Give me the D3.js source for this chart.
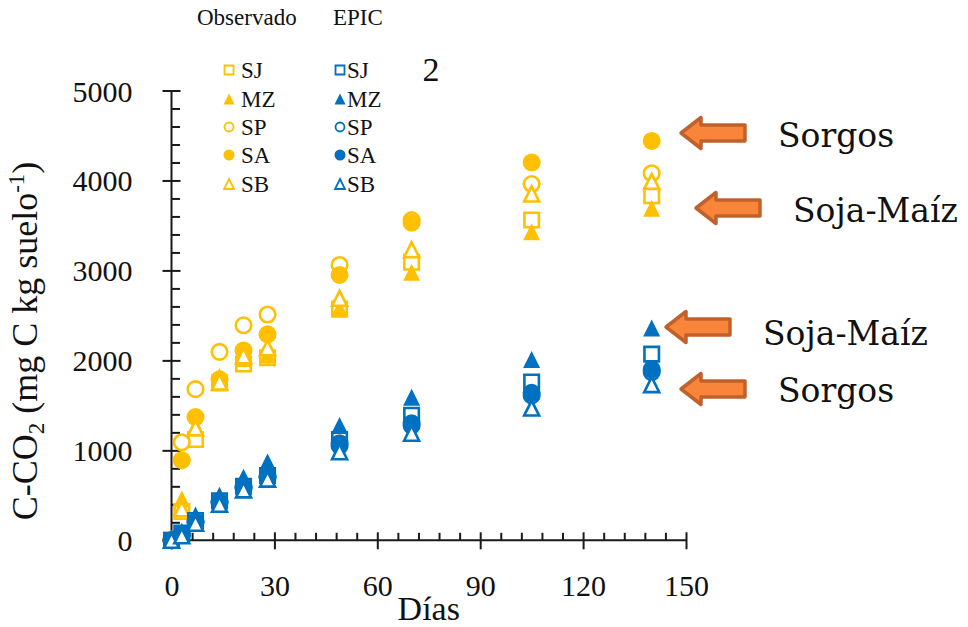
<!DOCTYPE html>
<html>
<head>
<meta charset="utf-8">
<script src="https://cdn.jsdelivr.net/npm/d3@7"></script>
<style>
  html, body { margin: 0; padding: 0; background: #fff; }
  svg { display: block; }
  text { font-family: "Liberation Serif", "Times New Roman", serif; fill: #111; }
  .note { font-family: "DejaVu Serif", serif; }
</style>
</head>
<body>
<svg id="chart" width="968" height="627"></svg>
<script>
// Incubation days
const days = [0, 3, 7, 14, 21, 28, 49, 70, 105, 140];

// Cumulative C-CO2 (mg C kg suelo-1), measured
const obsSJ = [0, 320, 1120, 1750, 1960, 2030, 2570, 3090, 3560, 3830];
const obsMZ = [0, 460, 1270, 1820, 2020, 2060, 2580, 2980, 3430, 3690];
const obsSP = [0, 1090, 1680, 2095, 2390, 2510, 3060, 3560, 3960, 4080];
const obsSA = [0, 890, 1370, 1790, 2110, 2290, 2950, 3530, 4200, 4440];
const obsSB = [0, 350, 1250, 1760, 2050, 2140, 2690, 3230, 3850, 3990];

// Cumulative C-CO2 simulated with EPIC
const epicSJ = [0, 80, 220, 440, 600, 720, 1120, 1390, 1760, 2070];
const epicMZ = [0, 100, 280, 500, 700, 870, 1275, 1590, 2010, 2360];
const epicSP = [0, 60, 200, 420, 580, 700, 1050, 1300, 1610, 1870];
const epicSA = [0, 70, 210, 430, 590, 710, 1080, 1275, 1640, 1900];
const epicSB = [0, 50, 190, 400, 560, 680, 985, 1190, 1470, 1730];

const seriesNames = ["SJ", "MZ", "SP", "SA", "SB"];
const xTicks = [0, 30, 60, 90, 120, 150];
const yTicks = [0, 1000, 2000, 3000, 4000, 5000];

// Annotations on the right-hand side
const noteLabels = ["Sorgos", "Soja-Maíz", "Soja-Maíz", "Sorgos"];

const YELLOW = "#FFC000", BLUE = "#0070C0";

const svg = d3.select("#chart");

const x = d3.scaleLinear().domain([0, 150]).range([171.5, 686]);
const y = d3.scaleLinear().domain([0, 5000]).range([540.3, 90.5]);

// ---- axes ----
const axisColor = "#1a1a1a";
const fmt = d3.format("d");

const yMinor = d3.range(200, 5000, 200).filter(v => v % 1000 !== 0);
const xMinor = d3.range(6, 150, 6).filter(v => v % 30 !== 0);

const gyMinor = svg.append("g").attr("transform", `translate(${x(0)},0)`)
  .call(d3.axisLeft(y).tickValues(yMinor).tickSize(-8.5).tickFormat(""));
const gy = svg.append("g").attr("transform", `translate(${x(0)},0)`)
  .call(d3.axisLeft(y).tickValues(yTicks).tickFormat(fmt).tickSize(9).tickPadding(30));
gy.selectAll(".tick line").attr("x1", 9);

const gxMinor = svg.append("g").attr("transform", `translate(0,${y(0)})`)
  .call(d3.axisBottom(x).tickValues(xMinor).tickSize(-7.5).tickFormat(""));
const gx = svg.append("g").attr("transform", `translate(0,${y(0)})`)
  .call(d3.axisBottom(x).tickValues(xTicks).tickFormat(fmt).tickSize(9).tickPadding(25));
gx.selectAll(".tick line").attr("y1", -8);

[gy, gyMinor, gx, gxMinor].forEach(g => {
  g.selectAll(".domain").attr("stroke", axisColor).attr("stroke-width", 2);
  g.selectAll(".tick line").attr("stroke", axisColor).attr("stroke-width", 2);
});
gyMinor.select(".domain").remove();
gxMinor.select(".domain").remove();
gy.select(".domain").attr("d", `M0,${y(0)}V${y(5000)}`);
gx.select(".domain").attr("d", `M${x(0)},0H${x(150)}`);

gy.selectAll(".tick text")
  .attr("font-family", "Liberation Serif").attr("font-size", 30).attr("fill", "#111")
  .attr("dy", "0.35em");
gx.selectAll(".tick text")
  .attr("font-family", "Liberation Serif").attr("font-size", 30).attr("fill", "#111")
  .attr("dy", "0.71em");

// axis titles
svg.append("text")
  .attr("x", (x(0) + x(150)) / 2).attr("y", 620)
  .attr("text-anchor", "middle").attr("font-size", 34)
  .text("Días");

const yTitle = svg.append("text")
  .attr("transform", "translate(37,341) rotate(-90)")
  .attr("text-anchor", "middle").attr("font-size", 36);
yTitle.append("tspan").text("C-CO");
yTitle.append("tspan").attr("font-size", 23).attr("dy", 7).text("2");
yTitle.append("tspan").attr("dy", -7).text(" (mg C kg suelo");
yTitle.append("tspan").attr("font-size", 23).attr("dy", -13).text("-1");
yTitle.append("tspan").attr("dy", 13).text(")");

// ---- marker shapes ----
const triUp = {
  draw(ctx, size) {
    const s = Math.sqrt(size);
    ctx.moveTo(0, -s / 2);
    ctx.lineTo(s / 2, s / 2);
    ctx.lineTo(-s / 2, s / 2);
    ctx.closePath();
  }
};
const circ = {
  draw(ctx, size) {
    const r = Math.sqrt(size) / 2;
    ctx.moveTo(r, 0);
    ctx.arc(0, 0, r, 0, 2 * Math.PI);
  }
};
const sq = {
  draw(ctx, size) {
    const s = Math.sqrt(size) / 2;
    ctx.rect(-s, -s, 2 * s, 2 * s);
  }
};

// name -> shape, filled?, marker side (px) in plot, side in legend
const markerSpec = {
  SJ: { type: sq, filled: false, side: 14.5, leg: 9 },
  MZ: { type: triUp, filled: true, side: 17, leg: 11 },
  SP: { type: circ, filled: false, side: 15.5, leg: 9 },
  SA: { type: circ, filled: true, side: 18, leg: 11 },
  SB: { type: triUp, filled: false, side: 15, leg: 10 }
};

function drawMarker(g, name, color, cx, cy, legend) {
  const spec = markerSpec[name];
  const side = legend ? spec.leg : spec.side;
  g.append("path")
    .attr("transform", `translate(${cx},${cy})`)
    .attr("d", d3.symbol().type(spec.type).size(side * side)())
    .attr("fill", spec.filled ? color : "#fff")
    .attr("stroke", spec.filled ? "none" : color)
    .attr("stroke-width", legend ? 1.8 : 2.6)
    .attr("stroke-linejoin", "miter");
}

const observed = { SJ: obsSJ, MZ: obsMZ, SP: obsSP, SA: obsSA, SB: obsSB };
const epic = { SJ: epicSJ, MZ: epicMZ, SP: epicSP, SA: epicSA, SB: epicSB };

const gPoints = svg.append("g");
[[observed, YELLOW], [epic, BLUE]].forEach(([set, color]) => {
  seriesNames.forEach(name => {
    const g = gPoints.append("g");
    set[name].forEach((v, i) => drawMarker(g, name, color, x(days[i]), y(v), false));
  });
});

// ---- legend ----
const legend = svg.append("g");
legend.append("text").attr("x", 197).attr("y", 25).attr("font-size", 23).text("Observado");
legend.append("text").attr("x", 333).attr("y", 25).attr("font-size", 23).text("EPIC");
const rowY = [70, 99, 127, 155, 184];
seriesNames.forEach((name, i) => {
  drawMarker(legend, name, YELLOW, 229, rowY[i], true);
  legend.append("text").attr("x", 241).attr("y", rowY[i] + 7.5).attr("font-size", 23).text(name);
  drawMarker(legend, name, BLUE, 340, rowY[i], true);
  legend.append("text").attr("x", 347).attr("y", rowY[i] + 7.5).attr("font-size", 23).text(name);
});
svg.append("text").attr("x", 431).attr("y", 81).attr("text-anchor", "middle")
  .attr("font-size", 34).text("2");

// ---- arrows and notes ----
const arrows = [
  { tip: 681, end: 745, cy: 133 },
  { tip: 696, end: 760, cy: 208 },
  { tip: 666, end: 730, cy: 327 },
  { tip: 681, end: 745, cy: 389 }
];
const noteXY = [[778, 147], [793, 222], [763, 345], [778, 402]];

function arrowPath(a) {
  const hh = 15.5, bh = 8, hl = 20;
  return `M${a.tip},${a.cy}L${a.tip + hl},${a.cy - hh}L${a.tip + hl},${a.cy - bh}` +
    `L${a.end},${a.cy - bh}L${a.end},${a.cy + bh}L${a.tip + hl},${a.cy + bh}` +
    `L${a.tip + hl},${a.cy + hh}Z`;
}
svg.append("g").selectAll("path").data(arrows).join("path")
  .attr("d", arrowPath)
  .attr("fill", "#F8853A").attr("stroke", "#C0612B")
  .attr("stroke-width", 3.5).attr("stroke-linejoin", "round");

svg.append("g").selectAll("text").data(noteLabels).join("text")
  .attr("class", "note")
  .attr("x", (d, i) => noteXY[i][0]).attr("y", (d, i) => noteXY[i][1])
  .attr("font-size", 33)
  .text(d => d);
</script>
</body>
</html>
